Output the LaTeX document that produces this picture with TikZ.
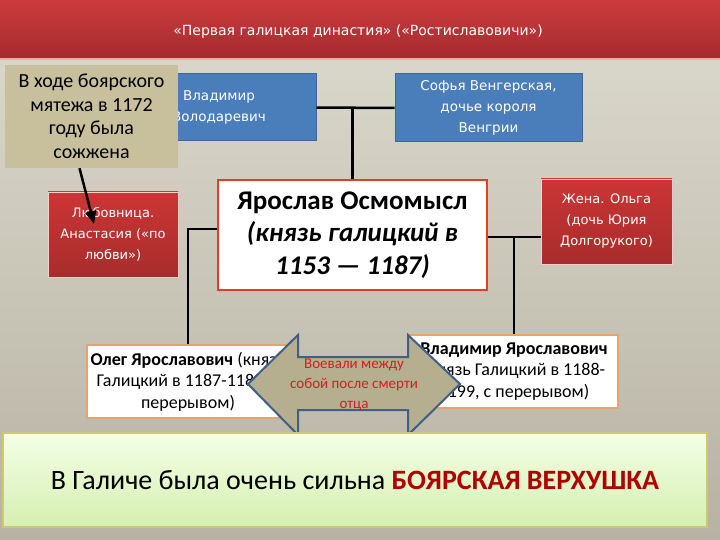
\documentclass[tikz,border=0pt]{standalone}
\usepackage{fontspec}
\setmainfont{Carlito}
\newfontfamily\vfont{DejaVu Sans}
\usetikzlibrary{arrows.meta}

\definecolor{bgtop}{HTML}{DDDBCF}
\definecolor{bgbot}{HTML}{B7B2A3}
\definecolor{titletop}{HTML}{CC3B3E}
\definecolor{titlebot}{HTML}{A52B2E}
\definecolor{notetan}{HTML}{C8BF9C}
\definecolor{blueface}{HTML}{4A7EBB}
\definecolor{blueedge}{HTML}{3C679A}
\definecolor{redtop}{HTML}{CC3535}
\definecolor{redbot}{HTML}{A82C2C}
\definecolor{orangeedge}{HTML}{E8A466}
\definecolor{warfill}{HTML}{B5AE8F}
\definecolor{waredge}{HTML}{3F5F86}
\definecolor{wartext}{HTML}{D02020}
\definecolor{greentop}{HTML}{F4FFE6}
\definecolor{greenbot}{HTML}{D5EFB0}
\definecolor{boyar}{HTML}{B00000}

\begin{document}
\begin{tikzpicture}[x=1pt,y=-1pt,
    bluebox/.style={draw=blueedge, fill=blueface, line width=1pt, text=white,
        align=center, font=\vfont\fontsize{13.5}{21}\selectfont},
    redbox/.style={draw=red!20, top color=redtop, bottom color=redbot, text=white,
        align=center, font=\vfont\fontsize{13}{21}\selectfont},
    sonbox/.style={draw=orangeedge, fill=white, line width=2pt, align=center,
        font=\fontsize{18}{21.5}\selectfont},
    link/.style={line width=2.5pt}]

    \useasboundingbox (0,0) rectangle (720,540);
    \shade [top color=bgtop, bottom color=bgbot] (0,0) rectangle (720,540);
    \shade [top color=titletop, bottom color=titlebot] (0,0) rectangle (720,58);
    \draw [red!35, line width=2pt] (0,59) -- (720,59);
    \node [text=white, font=\vfont\fontsize{14}{16}\selectfont] (title) at (358,32)
        {«Первая галицкая династия» («Ростиславовичи»)};

    \node [bluebox, minimum width=194, minimum height=67] (vlad) at (219,107.5)
        {Владимир\\Володаревич};
    \node [fill=notetan, minimum width=173, minimum height=103, align=center,
        font=\fontsize{20}{23.5}\selectfont] (note) at (91.5,116.5)
        {В ходе боярского\\мятежа в 1172\\году была\\сожжена};
    \node [bluebox, minimum width=187, minimum height=68] (sofya) at (488.5,108)
        {Софья Венгерская,\\дочье короля\\Венгрии};

    \node [draw=red!50!brown, fill=white, line width=1.2pt, minimum width=269,
        minimum height=110, align=center, font=\bfseries\fontsize{27}{32.5}\selectfont]
        (yar) at (352.5,235)
        {Ярослав Осмомысл\\\itshape (князь галицкий в\\\itshape 1153 — 1187)};
    \node [redbox, minimum width=130, minimum height=85] (anast) at (113,234.5)
        {Любовница.\\Анастасия («по\\любви»)};
    \node [redbox, minimum width=131, minimum height=85] (olga) at (606.5,221.5)
        {Жена. Ольга\\(дочь Юрия\\Долгорукого)};

    \node [sonbox, minimum width=200, minimum height=73] (oleg) at (188,381.5)
        {\textbf{Олег Ярославович} (князь\\Галицкий в 1187-1188, с\\перерывом)};
    \node [sonbox, minimum width=208, minimum height=73] (vy) at (514,371.5)
        {\textbf{Владимир Ярославович}\\(князь Галицкий в 1188-\\1199, с перерывом)};

    \draw [link] (vlad.east) -- (sofya.west);
    \draw [link] (yar.north) -- (yar.north |- vlad.east);
    \draw [link] ([yshift=6]yar.west) -| (oleg.north);
    \draw [link] ([yshift=-2]yar.east) -- ([yshift=-2]yar.east -| olga.west);
    \draw [link] ([yshift=-2]yar.east -| vy.north) -- (vy.north);

    \coordinate (burnt) at (94,224);
    \draw [-{Triangle[length=13pt,width=11pt]}, line width=2.5pt]
        ([xshift=-12]note.south) -- (burnt);

    \draw [fill=warfill, draw=waredge, line width=2pt, line join=miter]
        (248,384) -- (298,335) -- (298,357) -- (408,357) -- (408,335) -- (460,384)
        -- (408,435) -- (408,410) -- (298,410) -- (298,435) -- cycle;
    \node [text=wartext, align=center, font=\fontsize{15}{20}\selectfont] (war) at (354,385)
        {Воевали между\\собой после смерти\\отца};

    \node [draw=olive!45, line width=1.5pt, top color=greentop, bottom color=greenbot,
        minimum width=704, minimum height=94, font=\fontsize{28}{32}\selectfont]
        (galich) at (355,480)
        {В Галиче была очень сильна \textbf{\color{boyar}БОЯРСКАЯ ВЕРХУШКА}};
\end{tikzpicture}
\end{document}
